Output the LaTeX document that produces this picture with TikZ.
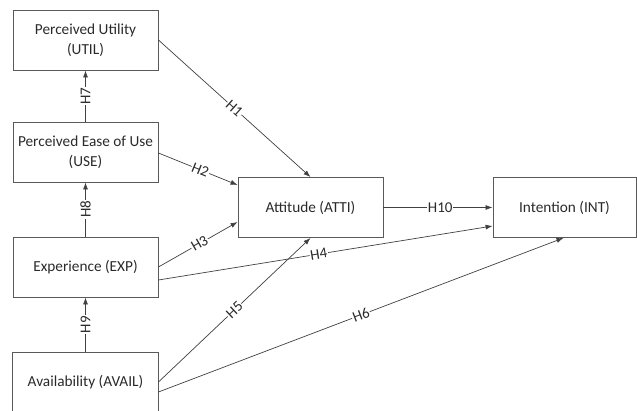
\documentclass[tikz,border=0pt]{standalone}
\usepackage{fontspec}
\setmainfont{Carlito}
\usetikzlibrary{arrows.meta}
\definecolor{boxc}{HTML}{5A5A5A}
\definecolor{linec}{HTML}{404040}
\definecolor{txtc}{HTML}{2A2A2A}
\begin{document}
\begin{tikzpicture}[x=1pt,y=-1pt,
  box/.style={draw=boxc,line width=0.9pt,minimum width=145pt,minimum height=60pt,inner sep=0pt,align=center,text=txtc,font=\fontsize{15.3}{20}\selectfont},
  conn/.style={draw=linec,line width=0.7pt,-{Latex[length=7pt,width=5pt]}},
  lab/.style={fill=white,inner sep=0.8pt,text=txtc,font=\fontsize{15}{18}\selectfont}]
\useasboundingbox (0,0) rectangle (637,411);
\clip (0,0) rectangle (637,411);
\node[box] (UTIL) at (85.5,40) {Perceived Utility\\(UTIL)};
\node[box] (USE) at (85.5,152) {Perceived Ease of Use\\(USE)};
\node[box] (EXP) at (85.5,267) {Experience (EXP)};
\node[box,draw=none] (AVAIL) at (85.5,382.5) {Availability (AVAIL)};
\draw[boxc,line width=0.9pt] (AVAIL.south west) -- (AVAIL.north west) -- (AVAIL.north east) -- (AVAIL.south east);
\node[box] (ATTI) at (310.5,207.5) {Attitude (ATTI)};
\node[box,minimum width=143pt] (INT) at (564.5,207.5) {Intention (INT)};
% connectors
\draw[conn] (USE.north) -- node[lab,rotate=90] {H7} (UTIL.south);
\draw[conn] (EXP.north) -- node[lab,rotate=90] {H8} (USE.south);
\draw[conn] (AVAIL.north) -- node[lab,rotate=90] {H9} (EXP.south);
\draw[conn] (UTIL.east) -- node[lab,sloped,pos=0.5] {H1} (ATTI.north);
\draw[conn] ([yshift=-1pt]USE.east) -- node[lab,sloped,pos=0.53] {H2} ([yshift=22.5pt]ATTI.west);
\draw[conn] (EXP.east) -- node[lab,sloped,pos=0.52] {H3} ([yshift=-14.5pt]ATTI.west);
\draw[conn] ([yshift=-13pt]EXP.east) -- node[lab,sloped,pos=0.48] {H4} ([yshift=-18.5pt]INT.west);
\draw[conn] ([yshift=0.5pt]AVAIL.east) -- node[lab,sloped,pos=0.5] {H5} (ATTI.south);
\draw[conn] ([yshift=-9.5pt]AVAIL.east) -- node[lab,sloped,pos=0.5] {H6} ([xshift=-1pt]INT.south);
\draw[conn] (ATTI.east) -- node[lab,pos=0.52] {H10} (INT.west);
\end{tikzpicture}
\end{document}
